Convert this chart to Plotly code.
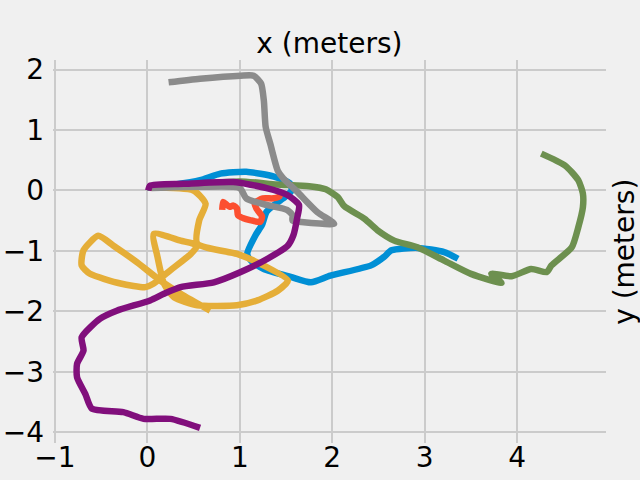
import plotly.graph_objects as go

# trajectories (meters), in plotting order
blue_x = [0.00, 0.30, 0.57, 0.79, 1.07, 1.37, 1.54, 1.56, 1.47, 1.37, 1.29, 1.24, 1.17, 1.08,
          1.12, 1.26, 1.55, 1.77, 1.98, 2.42, 2.56, 2.64, 2.92, 3.21, 3.36]
blue_y = [0.05, 0.10, 0.17, 0.28, 0.31, 0.23, 0.12, 0.00, -0.13, -0.24, -0.35, -0.57, -0.74, -1.05,
          -1.16, -1.30, -1.43, -1.52, -1.41, -1.24, -1.10, -0.99, -0.95, -1.02, -1.13]

red_x = [0.81, 0.82, 0.86, 0.89, 0.93, 0.97, 0.98, 1.04, 1.11, 1.22, 1.24, 1.18, 1.16, 1.25, 1.36, 1.43, 1.40]
red_y = [-0.32, -0.19, -0.24, -0.27, -0.25, -0.30, -0.41, -0.46, -0.49, -0.52, -0.43, -0.30, -0.21,
         -0.13, -0.13, -0.10, -0.07]

yellow_x = [0.03, 0.50, 0.63, 0.56, 0.54, 0.97, 1.19, 1.52, 1.41, 1.19, 0.97, 0.54, 0.29, 0.18, 0.11,
            0.07, 0.36, 0.54, 0.47, 0.25, 0.07, -0.02, -0.29, -0.62, -0.71, -0.69, -0.53, -0.37,
            -0.11, 0.14, 0.36, 0.68]
yellow_y = [0.05, 0.00, -0.22, -0.50, -0.88, -1.05, -1.19, -1.49, -1.66, -1.82, -1.90, -1.90, -1.77,
            -1.54, -1.10, -0.72, -0.83, -0.91, -1.05, -1.32, -1.54, -1.60, -1.54, -1.38, -1.24, -0.99,
            -0.75, -0.91, -1.19, -1.49, -1.71, -1.99]

green_x = [0.00, 0.50, 1.00, 1.40, 1.75, 1.93, 2.06, 2.13, 2.35, 2.49, 2.67, 2.92, 3.21, 3.50, 3.83,
           3.72, 3.94, 4.15, 4.32, 4.37, 4.59, 4.66, 4.71, 4.71, 4.66, 4.52, 4.26]
green_y = [0.05, 0.10, 0.15, 0.10, 0.07, 0.02, -0.11, -0.26, -0.47, -0.66, -0.83, -0.94, -1.16, -1.38,
           -1.53, -1.38, -1.42, -1.30, -1.35, -1.24, -0.94, -0.61, -0.28, -0.05, 0.17, 0.41, 0.61]

gray_x = [0.05, 0.57, 1.00, 1.07, 1.29, 1.51, 1.57, 1.57, 1.66, 2.02, 1.84, 1.62, 1.47, 1.41, 1.33,
          1.28, 1.26, 1.23, 1.15, 1.01, 0.57, 0.23]
gray_y = [0.04, 0.06, 0.04, -0.13, -0.24, -0.32, -0.41, -0.50, -0.52, -0.55, -0.36, -0.02, 0.20, 0.33,
          0.77, 1.05, 1.49, 1.77, 1.90, 1.90, 1.85, 1.79]

purple_x = [0.01, 0.03, 0.39, 0.93, 1.29, 1.51, 1.64, 1.62, 1.58, 1.52, 1.30, 1.01, 0.72, 0.36, 0.18,
            0.03, -0.33, -0.51, -0.71, -0.69, -0.76, -0.76, -0.67, -0.60, -0.26, -0.04, 0.25, 0.57]
purple_y = [0.00, 0.08, 0.11, 0.14, 0.04, -0.07, -0.24, -0.46, -0.74, -0.91, -1.13, -1.35, -1.52, -1.60,
            -1.71, -1.82, -1.99, -2.12, -2.43, -2.65, -2.87, -3.09, -3.37, -3.61, -3.67, -3.78, -3.78,
            -3.93]

x_ticks = [-1, 0, 1, 2, 3, 4]
y_ticks = [-4, -3, -2, -1, 0, 1, 2]

series = [
    (blue_x, blue_y, "#008fd5"),
    (red_x, red_y, "#fc4f30"),
    (yellow_x, yellow_y, "#e5ae38"),
    (green_x, green_y, "#6d904f"),
    (gray_x, gray_y, "#8b8b8b"),
    (purple_x, purple_y, "#810f7c"),
]

fig = go.Figure()
for xs, ys, color in series:
    fig.add_trace(
        go.Scatter(
            x=xs,
            y=ys,
            mode="lines",
            line=dict(color=color, width=6.5, shape="spline", smoothing=0.6),
            showlegend=False,
        )
    )

font = dict(family="DejaVu Sans", size=28, color="#000000")
axis_common = dict(
    showgrid=True,
    gridcolor="#cbcbcb",
    gridwidth=1.5,
    zeroline=False,
    showline=False,
    ticks="",
    tickfont=font,
    automargin=False,
)

fig.update_layout(
    width=640,
    height=480,
    paper_bgcolor="#f0f0f0",
    plot_bgcolor="#f0f0f0",
    margin=dict(l=53, r=34, t=60, b=37),
    font=font,
    title=dict(
        text="x (meters)",
        x=(53 + 605.7) / 2 / 640,
        xanchor="center",
        y=1 - 43 / 480,
        yanchor="middle",
        font=font,
    ),
    xaxis=dict(range=[-1.02, 4.96], tickvals=x_ticks, ticklabelstandoff=-5, **axis_common),
    yaxis=dict(range=[-4.18, 2.16], tickvals=y_ticks, ticklabelstandoff=8, **axis_common),
    annotations=[
        dict(
            text="y (meters)",
            xref="paper",
            yref="paper",
            x=(624 - 53) / (605.7 - 53),
            y=0.5,
            xanchor="center",
            yanchor="middle",
            textangle=-90,
            showarrow=False,
            font=font,
        )
    ],
)

# drop the page's default body margin so the figure sits at the window corner
page_fix = "document.body.style.margin='0';document.body.style.background='#f0f0f0';"
fig.write_html("out.html", post_script=page_fix, config={"displayModeBar": False})
